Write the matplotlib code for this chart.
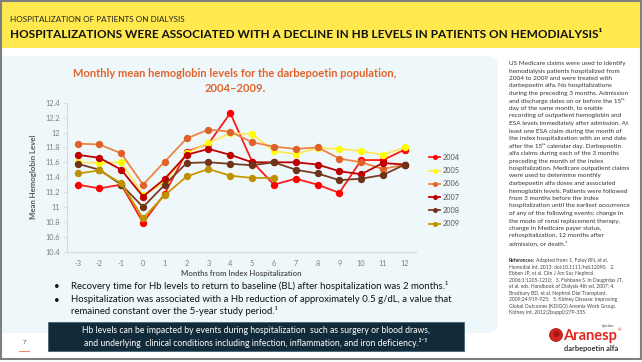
import numpy as np
import matplotlib
matplotlib.use("Agg")
import matplotlib.pyplot as plt
from matplotlib.patches import Rectangle, FancyBboxPatch, Circle
from matplotlib.ticker import FuncFormatter

plt.rcParams['font.family'] = ['Lato', 'DejaVu Sans']
plt.rcParams['axes.unicode_minus'] = False

# ---- data ----
months = [-3, -2, -1, 0, 1, 2, 3, 4, 5, 6, 7, 8, 9, 10, 11, 12]
hb_2004 = [11.30, 11.25, 11.30, 10.79, 11.18, 11.74, 11.85, 12.26, 11.61, 11.30, 11.38, 11.30, 11.19, 11.63, 11.63, 11.77]
hb_2005 = [11.60, 11.59, 11.60, 11.16, 11.33, 11.72, 11.86, 11.99, 11.98, 11.75, 11.71, 11.79, 11.78, 11.75, 11.70, 11.80]
hb_2006 = [11.85, 11.84, 11.72, 11.30, 11.61, 11.92, 12.04, 12.01, 11.87, 11.81, 11.78, 11.80, 11.65, 11.60, 11.51, 11.57]
hb_2007 = [11.70, 11.66, 11.50, 11.14, 11.38, 11.70, 11.78, 11.70, 11.60, 11.60, 11.60, 11.57, 11.48, 11.44, 11.59, 11.57]
hb_2008 = [11.58, 11.50, 11.30, 11.00, 11.30, 11.59, 11.60, 11.58, 11.56, 11.60, 11.50, 11.45, 11.36, 11.38, 11.43, 11.57]
hb_2009 = [11.45, 11.49, 11.32, 10.85, 11.16, 11.41, 11.51, 11.42, 11.39, 11.39]
years = ['2004', '2005', '2006', '2007', '2008', '2009']
series = [hb_2004, hb_2005, hb_2006, hb_2007, hb_2008, hb_2009]
y_ticks = [10.4, 10.6, 10.8, 11.0, 11.2, 11.4, 11.6, 11.8, 12.0, 12.2, 12.4]

line_cols = ['#FF1A1A', '#FFE75A', '#EE8442', '#C00000', '#7A3B1E', '#C59A00']
mark_cols = ['#FF0000', '#FFFF00', '#E0622A', '#C00000', '#6E341A', '#BF9000']

header_small = 'HOSPITALIZATION OF PATIENTS ON DIALYSIS'
header_big = 'HOSPITALIZATIONS WERE ASSOCIATED WITH A DECLINE IN HB LEVELS IN PATIENTS ON HEMODIALYSIS\u00b9'
chart_title = 'Monthly mean hemoglobin levels for the darbepoetin population,\n2004\u20132009.'
bullet1 = 'Recovery time for Hb levels to return to baseline (BL) after hospitalization was 2 months.\u00b9'
bullet2 = ('Hospitalization was associated with a Hb reduction of approximately 0.5 g/dL, a value that\n'
           'remained constant over the 5-year study period.\u00b9')
box_text = ('Hb levels can be impacted by events during hospitalization  such as surgery or blood draws,\n'
            'and underlying  clinical conditions including infection, inflammation, and iron deficiency.\u00b2\u207b\u2075')
side_text = [
    'US Medicare claims were used to identify',
    'hemodialysis patients hospitalized from',
    '2004 to 2009 and were treated with',
    'darbepoetin alfa. No hospitalizations',
    'during the preceding 3 months. Admission',
    'and discharge dates on or before the 15\u1d57\u02b0',
    'day of the same month, to enable',
    'recording of outpatient hemoglobin and',
    'ESA levels immediately after admission. At',
    'least one ESA claim during the month of',
    'the index hospitalization with an end date',
    'after the 15\u1d57\u02b0 calendar day. Darbepoetin',
    'alfa claims during each of the 3 months',
    'preceding the month of the index',
    'hospitalization. Medicare outpatient claims',
    'were used to determine monthly',
    'darbepoetin alfa doses and associated',
    'hemoglobin levels. Patients were followed',
    'from 3 months before the index',
    'hospitalization until the earliest occurrence',
    'of any of the following events: change in',
    'the mode of renal replacement therapy,',
    'change in Medicare payer status,',
    'rehospitalization, 12 months after',
    'admission, or death.\u00b9',
]
ref_head = 'References:'
ref_text = [
    'Adapted from: 1. Foley RN, et al.',
    'Hemodial Int. 2013: doi:10.1111/hdi.12090.   2.',
    'Ebben JP, et al. Clin J Am Soc Nephrol.',
    '2006;1:1205-1210;   3. Fishbane S. In Daugirdas JT,',
    'et al. eds. Handbook of Dialysis 4th ed. 2007; 4.',
    'Bradbury BD, et al. Nephrol Dial Transplant.',
    '2009;24:919-925;   5. Kidney Disease: Improving',
    'Global Outcomes (KDIGO) Anemia Work Group.',
    'Kidney Int. 2012;2(suppl):279-335.',
]

fig = plt.figure(figsize=(6.42, 3.62), dpi=100)
fig.patch.set_facecolor('white')
renderer = fig.canvas.get_renderer()

# slide background in pixel coordinates
bg = fig.add_axes([0, 0, 1, 1])
bg.set_xlim(0, 642)
bg.set_ylim(362, 0)
bg.axis('off')

bg.add_patch(Rectangle((1, 2), 640, 46, facecolor='#FFE94F', edgecolor='none'))
bg.add_patch(FancyBboxPatch((-20, 56), 518, 277, boxstyle='round,pad=0,rounding_size=11',
                            facecolor='#EEF8FA', edgecolor='none'))
bg.add_patch(Rectangle((1, 1), 639.5, 358, facecolor='none', edgecolor='#7F7F7F', lw=1.5))

bg.text(10, 19, header_small, fontsize=5.9, color='#222222', va='center', ha='left')
bg.text(10, 35, header_big, fontsize=8.5, fontweight='bold', color='#111111', va='center', ha='left')

bg.text(235, 81, chart_title, fontsize=8.0, fontweight='bold', color='#E2622B',
        va='center', ha='center', linespacing=1.4)

# bullets
bg.text(57, 286, '\u2022', fontsize=7, color='#111111', va='center', ha='center')
bg.text(71, 286, bullet1, fontsize=6.9, color='#111111', va='center', ha='left')
bg.text(57, 301, '\u2022', fontsize=7, color='#111111', va='center', ha='center')
bg.text(71, 295.5, bullet2, fontsize=6.9, color='#111111', va='top', ha='left', linespacing=1.15)

# dark info box
bg.add_patch(Rectangle((48, 322), 416, 29, facecolor='#112B3A', edgecolor='#4A6272', lw=0.6))
bg.text(256, 337, box_text, fontsize=6.2, color='white', va='center', ha='center', linespacing=1.35)

# page number
bg.text(24, 343, '7', fontsize=4.2, color='#444444', va='center', ha='center')
bg.plot([19, 29], [351, 351], color='#F08A6A', lw=0.8)

# right column
for i, line in enumerate(side_text):
    bg.text(509, 63.5 + i * 7.5, line, fontsize=4.6, color='#333333', va='center', ha='left')
head = bg.text(509, 260.7, ref_head, fontsize=3.6, fontweight='bold', color='#333333',
               va='center', ha='left')
head_w = head.get_window_extent(renderer).width
for i, line in enumerate(ref_text):
    x0 = 509 + head_w + 1.5 if i == 0 else 509
    bg.text(x0, 260.7 + i * 6.5, line, fontsize=3.6, color='#444444', va='center', ha='left')

# logo
bg.add_patch(Circle((556, 335), 6.5, facecolor='#D7261E', edgecolor='#9C1410', lw=0.5))
bg.add_patch(Circle((556.5, 334), 3.2, facecolor='#A9150F', edgecolor='none'))
brand = bg.text(563, 336, 'Aranesp', fontsize=10.5, fontweight='bold', color='#E2261C',
                va='center', ha='left')
brand_w = brand.get_window_extent(renderer).width
bg.text(563 + brand_w + 0.5, 330, '\u00ae', fontsize=3, color='#E2261C', va='center', ha='left')
bg.text(608, 325.5, 'injection', fontsize=2.3, color='#333333', va='center', ha='center')
bg.text(591, 348.5, 'darbepoetin alfa', fontsize=5.3, fontweight='bold', color='#333333',
        va='center', ha='center')

# ---- chart ----
ax = fig.add_axes([66.7 / 642, 1 - 251.7 / 362, 349 / 642, 149 / 362])
ax.set_facecolor('none')
for yr, vals, lc, mc in zip(years, series, line_cols, mark_cols):
    ax.plot(months[:len(vals)], vals, color=lc, lw=1.3, marker='o', markersize=4.3,
            markerfacecolor=mc, markeredgecolor=mc, label=yr)

ax.set_xlim(-3.5, 12.5)
ax.set_ylim(10.4, 12.4)
ax.set_xticks(months)
ax.set_yticks(y_ticks)
ax.yaxis.set_major_formatter(FuncFormatter(lambda v, p: '%g' % round(v, 1)))
ax.tick_params(axis='x', length=0, pad=6, labelsize=5.3, labelcolor='#7F7F7F')
ax.tick_params(axis='y', length=3, width=0.6, color='#D9D9D9', pad=2, labelsize=5.3, labelcolor='#7F7F7F')
for s in ['top', 'right']:
    ax.spines[s].set_visible(False)
for s in ['left', 'bottom']:
    ax.spines[s].set_color('#D9D9D9')
    ax.spines[s].set_linewidth(0.8)

ax.set_ylabel('Mean Hemoglobin Level', fontsize=5.6, fontweight='bold', color='#595959')
ax.yaxis.set_label_coords(-0.085, 0.5)
ax.set_xlabel('Months from Index Hospitalization', fontsize=5.6, fontweight='bold', color='#595959')
ax.xaxis.set_label_coords(0.5, -0.12)

leg = ax.legend(loc='center left', bbox_to_anchor=(1.02, 0.41), frameon=False, fontsize=5.3,
                handlelength=1.5, handletextpad=0.3, labelspacing=0.85, markerscale=0.6)
for t in leg.get_texts():
    t.set_color('#595959')

fig.savefig('out.png', dpi=100, facecolor='white')
